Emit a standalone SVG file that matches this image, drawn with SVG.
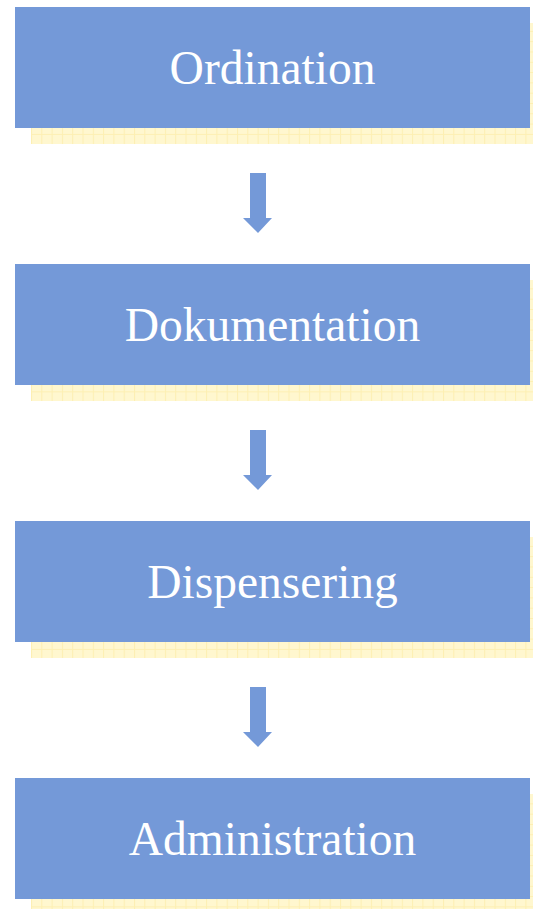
<svg xmlns="http://www.w3.org/2000/svg" width="533" height="909" viewBox="0 0 533 909">
  <style>
    .box { fill: #7499D8; }
    .shadow { fill: url(#grid); }
    .label { font-family: "Liberation Serif", "Times New Roman", serif; font-size: 47.5px; fill: #FFFFFF; text-anchor: middle; }
    .arrow { fill: #7499D8; }
  </style>
  <defs>
    <pattern id="grid" x="31" y="0" width="10.3" height="10.3" patternUnits="userSpaceOnUse">
      <rect width="10.3" height="10.3" fill="#FFF7CF"/>
      <path d="M0 0.5 H10.3 M0.5 0 V10.3" stroke="#FDEFB2" stroke-width="1" fill="none"/>
    </pattern>
  </defs>
  <rect width="533" height="909" fill="#FFFFFF"/>
  <g id="connectors">
    <polygon class="arrow" points="250,173 266,173 266,218 272,218 258,233 243,218 250,218"/>
    <polygon class="arrow" points="250,430 266,430 266,475 272,475 258,490 243,475 250,475"/>
    <polygon class="arrow" points="250,687 266,687 266,732 272,732 258,747 243,732 250,732"/>
  </g>
  <g id="node-ordination">
    <rect class="shadow" x="31" y="23" width="502" height="121"/>
    <rect class="box" x="15" y="7" width="515" height="121"/>
    <text class="label" x="272.5" y="84">Ordination</text>
  </g>
  <g id="node-dokumentation">
    <rect class="shadow" x="31" y="280" width="502" height="121"/>
    <rect class="box" x="15" y="264" width="515" height="121"/>
    <text class="label" x="272.5" y="341">Dokumentation</text>
  </g>
  <g id="node-dispensering">
    <rect class="shadow" x="31" y="537" width="502" height="121"/>
    <rect class="box" x="15" y="521" width="515" height="121"/>
    <text class="label" x="272.5" y="598">Dispensering</text>
  </g>
  <g id="node-administration">
    <rect class="shadow" x="31" y="794" width="502" height="121"/>
    <rect class="box" x="15" y="778" width="515" height="121"/>
    <text class="label" x="272.5" y="855">Administration</text>
  </g>
</svg>
